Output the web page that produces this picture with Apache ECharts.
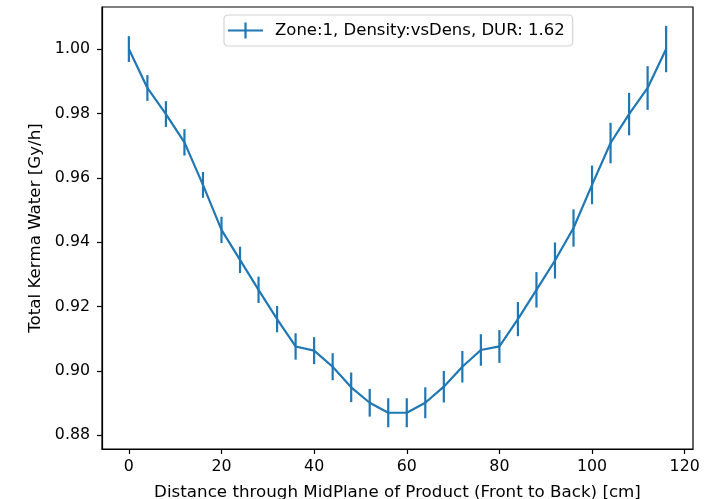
<!DOCTYPE html>
<html>
<head>
<meta charset="utf-8">
<script src="https://cdn.jsdelivr.net/npm/echarts@6/dist/echarts.min.js"></script>
<style>
  html, body { margin: 0; padding: 0; background: #fff; }
  #chart { width: 722px; height: 499px; }
</style>
</head>
<body>
<div id="chart"></div>
<script>
// distance through product [cm]
const distances = [0, 4, 8, 12, 16, 20, 24, 28, 32, 36, 40, 44, 48, 52, 56,
  60, 64, 68, 72, 76, 80, 84, 88, 92, 96, 100, 104, 108, 112, 116];
// total kerma water [Gy/h]
const kerma = [1.000, 0.9879, 0.9798, 0.9710, 0.9578, 0.9438, 0.9345, 0.9252, 0.9161, 0.9076,
  0.9063, 0.9013, 0.8949, 0.8901, 0.8870, 0.8870, 0.8901, 0.8951, 0.9013, 0.9065,
  0.9076, 0.9161, 0.9252, 0.9343, 0.9444, 0.9578, 0.9708, 0.9798, 0.9879, 1.000];
// error bar half-heights
const kermaErr = [0.0040, 0.0040, 0.0040, 0.0041, 0.0040, 0.0041, 0.0041, 0.0041, 0.0041, 0.0041,
  0.0042, 0.0042, 0.0046, 0.0043, 0.0045, 0.0045, 0.0048, 0.0049, 0.0049, 0.0049,
  0.0051, 0.0053, 0.0055, 0.0056, 0.0058, 0.0060, 0.0063, 0.0066, 0.0068, 0.0072];
const xTicks = [0, 20, 40, 60, 80, 100, 120];
const yTicks = [0.88, 0.90, 0.92, 0.94, 0.96, 0.98, 1.00];

const seriesName = 'Zone:1, Density:vsDens, DUR: 1.62';
const blue = '#1f77b4';
const font = 'DejaVu Sans';

let chart = echarts.init(document.getElementById('chart'));

let option = {
  animation: false,
  grid: {
    left: 102, right: 29, top: 7, bottom: 50,
    containLabel: false, outerBoundsMode: 'none',
    show: true, borderColor: '#000', borderWidth: 1.2
  },
  legend: {
    left: 224, top: 15,
    padding: [7, 8, 7, 4],
    itemWidth: 35, itemHeight: 16,
    borderColor: '#d4d4d4', borderWidth: 1.2, borderRadius: 4,
    backgroundColor: 'rgba(255,255,255,0.8)',
    textStyle: { fontFamily: font, fontSize: 16.5, color: '#000', padding: [0, 0, 0, 7] },
    data: [{
      name: seriesName,
      icon: 'path://M0,6.9 L35,6.9 L35,9.1 L0,9.1 Z M16.4,0 L18.6,0 L18.6,16 L16.4,16 Z',
      itemStyle: { color: blue, borderWidth: 0 }
    }]
  },
  xAxis: {
    type: 'value',
    min: -5.8, max: 121.8,
    name: 'Distance through MidPlane of Product (Front to Back) [cm]',
    nameLocation: 'middle', nameGap: 35,
    nameTextStyle: { fontFamily: font, fontSize: 16.7, color: '#000' },
    axisLine: { show: true, onZero: false, lineStyle: { color: '#000', width: 1.2 } },
    axisTick: { show: true, length: 5, customValues: xTicks, lineStyle: { color: '#000', width: 1.2 } },
    axisLabel: { customValues: xTicks, fontFamily: font, fontSize: 15.8, color: '#000', margin: 10 },
    splitLine: { show: false }
  },
  yAxis: {
    type: 'value',
    min: 0.87574, max: 1.01306,
    name: 'Total Kerma Water [Gy/h]',
    nameLocation: 'middle', nameGap: 56, nameRotate: 90,
    nameTextStyle: { fontFamily: font, fontSize: 16.7, color: '#000' },
    axisLine: { show: true, onZero: false, lineStyle: { color: '#000', width: 1.2 } },
    axisTick: { show: true, length: 5, customValues: yTicks, lineStyle: { color: '#000', width: 1.2 } },
    axisLabel: {
      customValues: yTicks, fontFamily: font, fontSize: 15.8, color: '#000', margin: 12,
      formatter: v => v.toFixed(2)
    },
    splitLine: { show: false }
  },
  series: [
    {
      name: seriesName,
      type: 'line',
      data: distances.map((d, i) => [d, kerma[i]]),
      showSymbol: false,
      lineStyle: { color: blue, width: 2.2 },
      itemStyle: { color: blue }
    },
    {
      name: seriesName,
      type: 'custom',
      data: distances.map((d, i) => [d, kerma[i], kermaErr[i]]),
      encode: { x: 0, y: 1 },
      itemStyle: { color: blue },
      renderItem: (params, api) => {
        let x = api.value(0);
        let y = api.value(1);
        let e = api.value(2);
        let top = api.coord([x, y + e]);
        let bot = api.coord([x, y - e]);
        return {
          type: 'line',
          shape: { x1: top[0], y1: top[1], x2: bot[0], y2: bot[1] },
          style: { stroke: blue, lineWidth: 2.2 }
        };
      }
    }
  ]
};

chart.setOption(option);
</script>
</body>
</html>
